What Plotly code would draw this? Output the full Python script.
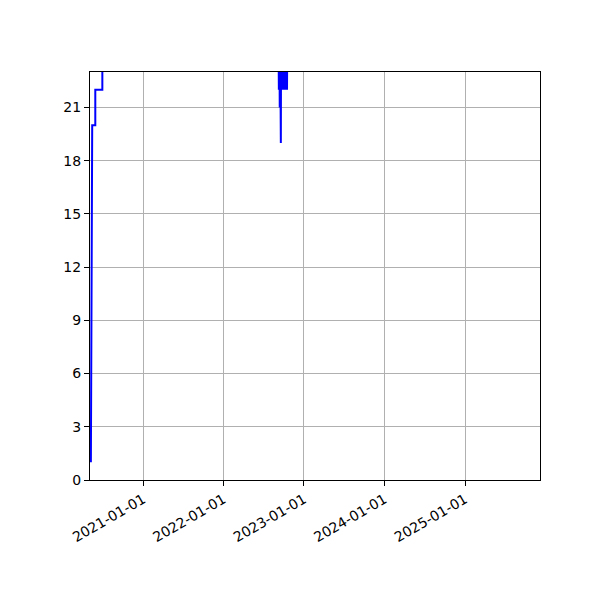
import plotly.graph_objects as go

# daily-ish readings (values above 23 run off the top of the chart)
dates = [
    "2020-05-09", "2020-05-12", "2020-05-15", "2020-05-15", "2020-05-29", "2020-05-29",
    "2020-06-30", "2020-06-30", "2021-03-01", "2022-01-01", "2022-09-06",
    "2022-09-07", "2022-09-08", "2022-09-09", "2022-09-10", "2022-09-11", "2022-09-12",
    "2022-09-13", "2022-09-14", "2022-09-15", "2022-09-16", "2022-09-17", "2022-09-18",
    "2022-09-19", "2022-09-20", "2022-09-21", "2022-09-22", "2022-09-23", "2022-09-24",
    "2022-09-25", "2022-09-26", "2022-09-27", "2022-09-28", "2022-09-29", "2022-09-30",
    "2022-10-01", "2022-10-02", "2022-10-03", "2022-10-04", "2022-10-05", "2022-10-06",
    "2022-10-07", "2022-10-08", "2022-10-09", "2022-10-10", "2022-10-11", "2022-10-12",
    "2022-10-13", "2022-10-14", "2022-10-15", "2022-10-16", "2022-10-17", "2022-10-18",
    "2023-06-01", "2024-06-01", "2025-06-01",
]
counts = [
    1, 19, 19, 20, 20, 22,
    22, 27, 30, 31, 28,
    22, 24, 22, 25, 22, 24,
    21, 23, 21, 24, 21, 19,
    25, 22, 24, 22, 25, 22,
    24, 22, 25, 22, 24, 22,
    25, 22, 24, 22, 25, 22,
    24, 22, 25, 22, 24, 22,
    25, 22, 24, 22, 24, 27,
    30, 32, 33,
]

x_ticks = ["2021-01-01", "2022-01-01", "2023-01-01", "2024-01-01", "2025-01-01"]
y_ticks = [0, 3, 6, 9, 12, 15, 18, 21]

fig = go.Figure()
fig.add_trace(go.Scatter(x=dates, y=counts, mode="lines",
                         line=dict(color="#0000ff", width=2), showlegend=False))

# the page body adds an 8px offset, so margins are trimmed to keep the axes where they belong
fig.update_layout(
    width=600, height=600,
    margin=dict(l=82, r=68, t=64, b=128),
    paper_bgcolor="white", plot_bgcolor="white",
    font=dict(family="DejaVu Sans", size=14, color="black"),
)
fig.update_xaxes(
    range=["2020-05-05", "2025-12-07"],
    tickvals=x_ticks, ticktext=x_ticks, tickangle=-30,
    showgrid=True, gridcolor="#b0b0b0", gridwidth=1,
    showline=True, linecolor="black", linewidth=1, mirror=True,
    ticks="outside", ticklen=5, tickcolor="black", zeroline=False,
)
fig.update_yaxes(
    range=[0, 23], tickvals=y_ticks,
    showgrid=True, gridcolor="#b0b0b0", gridwidth=1,
    showline=True, linecolor="black", linewidth=1, mirror=True,
    ticks="outside", ticklen=5, tickcolor="black", zeroline=False,
)

fig.write_html("out.html")
